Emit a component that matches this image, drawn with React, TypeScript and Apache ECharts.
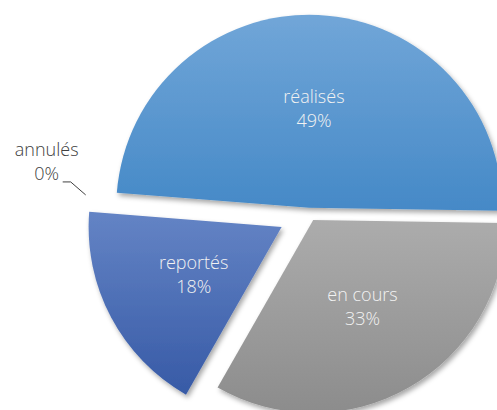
import React, { useEffect, useRef } from 'react';
import * as echarts from 'echarts';

const categories = ['réalisés', 'en cours', 'reportés', 'annulés'];
const values = [49, 33, 18, 0];

const COLORS: string[][] = [
  ['#71a6d8', '#4589c7'],
  ['#acacac', '#8c8c8c'],
  ['#6484c5', '#375aa6'],
  ['#6484c5', '#375aa6'],
];
const OFFSETS = [4.7, 8.5, 31, 31];
const CENTER = [309, 212.5];
const RADIUS = 193;
const START = 175.5;
const FONT = '"Open Sans", "Noto Sans", sans-serif';
const FONT_SIZE = 18;
const LINE_H = 24;

function buildSeries() {
  return categories.map((_, k) => {
    const isZero = values[k] === 0;
    const s: any = {
      type: 'pie',
      center: CENTER,
      radius: isZero ? RADIUS + OFFSETS[k] : RADIUS,
      startAngle: START,
      clockwise: true,
      selectedMode: 'multiple',
      selectedOffset: OFFSETS[k],
      avoidLabelOverlap: false,
      emphasis: { disabled: true },
      silent: true,
      z: 2 + k,
      label: { color: isZero ? '#404040' : '#f2f2f2' },
      data: categories.map((name, i) => {
        const vis = i === k;
        return {
          name,
          value: values[i],
          selected: vis && !isZero,
          itemStyle: vis && !isZero
            ? {
                color: new echarts.graphic.LinearGradient(0, 0, 0, 1, [
                  { offset: 0, color: COLORS[i][0] },
                  { offset: 1, color: COLORS[i][1] },
                ]),
                shadowBlur: 5,
                shadowOffsetX: 2,
                shadowOffsetY: 3,
                shadowColor: 'rgba(0,0,0,0.35)',
                borderWidth: 0,
              }
            : { color: 'rgba(0,0,0,0)', borderWidth: 0 },
          label: vis
            ? {
                show: true,
                position: isZero ? 'outside' : 'inside',
                formatter: '{b}\n{d}%',
                color: isZero ? '#404040' : '#f2f2f2',
                fontSize: FONT_SIZE,
                lineHeight: LINE_H,
                fontFamily: FONT,
                fontWeight: 300,
                align: 'center',
              }
            : { show: false },
          labelLine: vis && isZero
            ? { show: true, length: 14, length2: 8, lineStyle: { color: '#404040', width: 1 } }
            : { show: false },
        };
      }),
    };
    if (isZero) {
      s.labelLayout = (params: any) => {
        let p0: number[];
        if (params.labelLinePoints && params.labelLinePoints.length) {
          p0 = params.labelLinePoints[0];
        } else {
          const a = (START * Math.PI) / 180;
          const r = RADIUS + OFFSETS[k];
          p0 = [CENTER[0] + r * Math.cos(a), CENTER[1] - r * Math.sin(a)];
        }
        const p1 = [p0[0] - 15, p0[1] - 13];
        const p2 = [p1[0] - 8, p1[1]];
        return {
          x: p2[0] - 16,
          y: p2[1] - 21,
          align: 'center',
          verticalAlign: 'middle',
          labelLinePoints: [p0, p1, p2],
        };
      };
    }
    return s;
  });
}

export default function App() {
  const ref = useRef<HTMLDivElement>(null);
  useEffect(() => {
    if (!ref.current) return;
    const chart = echarts.init(ref.current, undefined, { renderer: 'svg' });
    chart.setOption({
      animation: false,
      backgroundColor: '#ffffff',
      series: buildSeries(),
    });
    return () => chart.dispose();
  }, []);
  return (
    <div
      ref={ref}
      style={{ position: 'fixed', left: 0, top: 0, width: 497, height: 410 }}
    />
  );
}
